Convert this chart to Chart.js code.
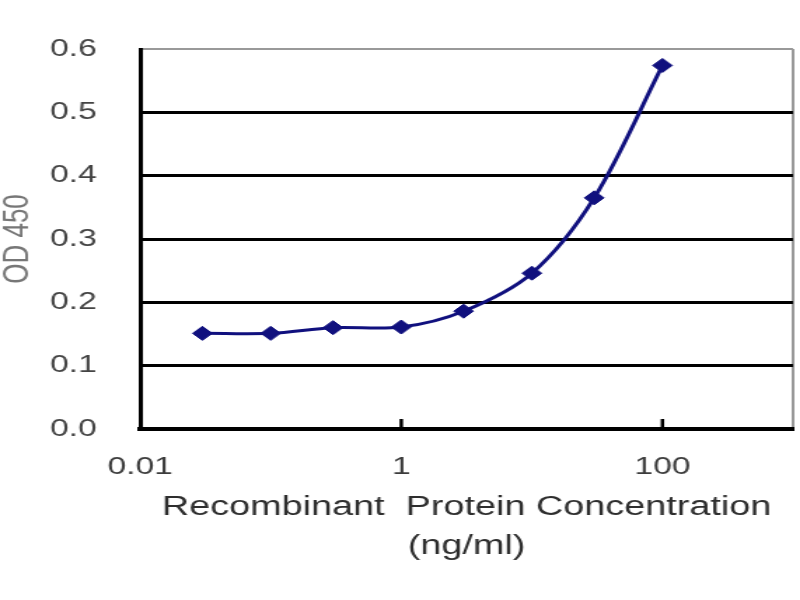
<!DOCTYPE html>
<html>
<head>
<meta charset="utf-8">
<script src="https://cdn.jsdelivr.net/npm/chart.js@4/dist/chart.umd.min.js"></script>
<style>
  html, body { margin: 0; padding: 0; background: #fff; overflow: hidden; }
  /* the reference is a horizontally stretched picture, so the chart is drawn narrow and stretched */
  #wrap { width: 571px; height: 600px; transform: scaleX(1.4011); transform-origin: 0 0; }
</style>
</head>
<body>
<div id="wrap"><canvas id="chart" width="571" height="600"></canvas></div>
<script>
// data
const concentrations = [0.03, 0.1, 0.3, 1, 3, 10, 30, 100];
const odValues = [0.151, 0.151, 0.160, 0.161, 0.186, 0.246, 0.365, 0.574];
const xTickValues = [0.01, 1, 100, 1000];
const xTickLabels = ['0.01', '1', '100', ''];
const yTitle = 'OD 450';
const xTitle = ['Recombinant  Protein Concentration', '(ng/ml)'];

const points = concentrations.map((c, i) => ({x: c, y: odValues[i]}));
const FONT = "'Liberation Sans', Arial, sans-serif";

// small inward tick marks on the x axis (Excel style)
const innerTicks = {
  id: 'innerTicks',
  afterDraw(chart){
    const xs = chart.scales.x;
    const ctx = chart.ctx;
    ctx.save();
    ctx.strokeStyle = '#000';
    ctx.lineWidth = 2.5;
    [1, 100].forEach(v=>{
      const px = xs.getPixelForValue(v);
      ctx.beginPath();
      ctx.moveTo(px, xs.top - 10);
      ctx.lineTo(px, xs.top);
      ctx.stroke();
    });
    ctx.restore();
  }
};

new Chart(document.getElementById('chart'), {
  type: 'line',
  data: {
    datasets: [{
      data: points,
      borderColor: '#10107e',
      backgroundColor: '#10107e',
      borderWidth: 3,
      tension: 0.33,
      pointStyle: 'rectRot',
      pointRadius: 7,
      pointBorderWidth: 1,
      fill: false
    }]
  },
  options: {
    responsive: false,
    devicePixelRatio: 1,
    animation: false,
    layout: { autoPadding: false, padding: { top: 49, right: 5, left: 0, bottom: 0 } },
    plugins: { legend: { display: false }, tooltip: { enabled: false } },
    scales: {
      x: {
        type: 'logarithmic',
        min: 0.01,
        max: 1000,
        afterBuildTicks: (s)=>{ s.ticks = xTickValues.map(v=>({value: v})); },
        afterFit: (s)=>{ s.height = 171; s.paddingLeft = 0; s.paddingRight = 0; },
        ticks: {
          autoSkip: false,
          maxRotation: 0,
          padding: 24,
          color: '#3c3c3c',
          font: { family: FONT, size: 24 },
          callback: (v)=>{ const i = xTickValues.indexOf(v); return i >= 0 ? xTickLabels[i] : ''; }
        },
        grid: {
          drawTicks: false,
          color: (c)=> c.tick && c.tick.value === 1000 ? '#999' : 'rgba(0,0,0,0)',
          lineWidth: 2
        },
        border: { color: '#000', width: 4 },
        title: {
          display: true,
          text: xTitle,
          color: '#2e2e2e',
          font: { family: FONT, size: 27, lineHeight: 1.48 },
          padding: { top: 0, bottom: 33 }
        }
      },
      y: {
        min: 0,
        max: 0.6,
        afterFit: (s)=>{ s.width = 100; },
        ticks: {
          stepSize: 0.1,
          padding: 31,
          color: '#444',
          font: { family: FONT, size: 24 },
          callback: (v)=> v.toFixed(1)
        },
        grid: {
          drawTicks: false,
          color: (c)=> c.tick && Math.abs(c.tick.value - 0.6) < 1e-9 ? '#999' : '#000',
          lineWidth: (c)=> c.tick && Math.abs(c.tick.value - 0.6) < 1e-9 ? 2 : 3
        },
        border: { color: '#000', width: 3 },
        title: {
          display: true,
          text: yTitle,
          color: '#777',
          font: { family: FONT, size: 26, lineHeight: 1 },
          padding: { top: 0, bottom: 0 }
        }
      }
    }
  },
  plugins: [innerTicks]
});
</script>
</body>
</html>
